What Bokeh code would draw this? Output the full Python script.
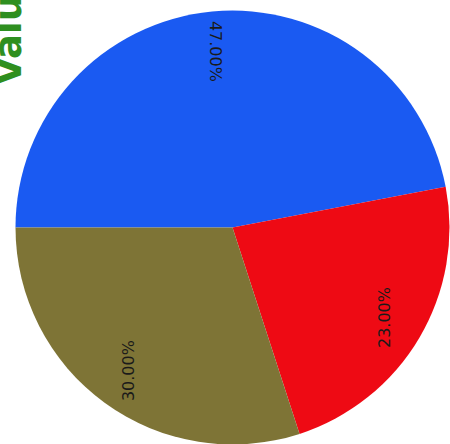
import numpy as np
from bokeh.plotting import figure
from bokeh.models import ColumnDataSource, Range1d
from bokeh.embed import file_html
from bokeh.resources import INLINE
from bokeh.core.properties import value

# ---- data ----
slice_names = ["Blue", "Red", "Olive"]
slice_values = [47, 23, 30]
slice_colors = ["#1a5af2", "#ee0a14", "#7e7436"]
title_text = "Values"

# ---- derived geometry ----
vals = np.array(slice_values, dtype=float)
frac = vals / vals.sum()
cum = np.cumsum(frac)
start_deg = 180.0
# clockwise from 180 degrees
a_hi = np.deg2rad(start_deg - (cum - frac) * 360.0)
a_lo = np.deg2rad(start_deg - cum * 360.0)
mid = (a_hi + a_lo) / 2.0
R = 217.0
lab_r = 0.815 * R
labels = [f"{f*100:.2f}%" for f in frac]
lab_angle = [(-np.pi / 2 if np.sin(m) > 0 else np.pi / 2) for m in mid]

src = ColumnDataSource(dict(
    name=slice_names, start=a_lo, end=a_hi, color=slice_colors,
    lx=lab_r * np.cos(mid), ly=lab_r * np.sin(mid), text=labels, ang=lab_angle,
))

W, H = 458, 452
CX, CY = 240, 235  # pie centre in canvas pixels
p = figure(width=W, height=H, output_backend="svg", toolbar_location=None,
           x_range=Range1d(-CX, W - CX), y_range=Range1d(-(H - CY), CY),
           min_border=0, outline_line_color=None, margin=(-8, -8, -8, -8))
p.axis.visible = False
p.grid.visible = False
p.background_fill_color = "white"
p.border_fill_color = "white"

p.wedge(x=0, y=0, radius=R, start_angle="start", end_angle="end",
        fill_color="color", line_color=None, source=src)

p.text(x="lx", y="ly", text="text", angle="ang", source=src,
       text_align="center", text_baseline="middle", text_color="#1a1a1a",
       text_font=value("DejaVu Sans"), text_font_size="16px")

# large green vertical title, partially clipped at the top-left corner
p.text(x=[16 - CX], y=[CY - 93], text=[title_text], angle=np.pi / 2,
       text_align="left", text_baseline="middle", text_color="#2f8f1f",
       text_font=value("DejaVu Sans"), text_font_style="bold", text_font_size="37px")

open("out.html", "w").write(file_html(p, INLINE))
